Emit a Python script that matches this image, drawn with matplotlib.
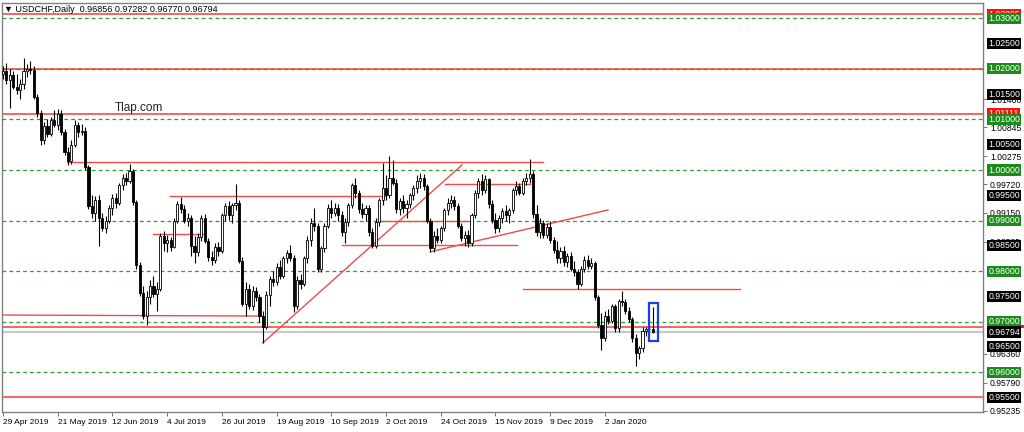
import matplotlib
matplotlib.use('Agg')
import matplotlib.pyplot as plt
from matplotlib.patches import Rectangle
from matplotlib.transforms import blended_transform_factory

plt.rcParams['font.family'] = ['Liberation Sans', 'DejaVu Sans']

# daily candles, 29 Apr 2019 .. Jan 2020 (bar index = trading day)
opens = [1.0190, 1.0195, 1.0178, 1.0188, 1.0165, 1.0158, 1.0170, 1.0195, 1.0200, 1.0198,
         1.0145, 1.0112, 1.0060, 1.0088, 1.0072, 1.0098, 1.0090, 1.0110, 1.0075, 1.0035,
         1.0018, 1.0050, 1.0090, 1.0075, 1.0078, 1.0005, 0.9928, 0.9915, 0.9940, 0.9905,
         0.9885, 0.9900, 0.9925, 0.9945, 0.9935, 0.9970, 0.9985, 0.9978, 0.9998, 0.9937,
         0.9812, 0.9757, 0.9712, 0.9748, 0.9770, 0.9755, 0.9765, 0.9870, 0.9855, 0.9862,
         0.9848, 0.9900, 0.9932, 0.9922, 0.9900, 0.9905, 0.9850, 0.9838, 0.9868, 0.9905,
         0.9860, 0.9828, 0.9822, 0.9848, 0.9840, 0.9910, 0.9928, 0.9910, 0.9930, 0.9935,
         0.9820, 0.9735, 0.9765, 0.9730, 0.9760, 0.9748, 0.9712, 0.9690, 0.9752, 0.9785,
         0.9778, 0.9808, 0.9790, 0.9825, 0.9835, 0.9826, 0.9730, 0.9782, 0.9775, 0.9825,
         0.9862, 0.9895, 0.9890, 0.9805, 0.9845, 0.9890, 0.9925, 0.9915, 0.9925, 0.9910,
         0.9878, 0.9898, 0.9930, 0.9970, 0.9955, 0.9922, 0.9912, 0.9925, 0.9878, 0.9850,
         0.9898, 0.9940, 0.9965, 0.9950, 0.9985, 0.9975, 0.9922, 0.9938, 0.9925, 0.9932,
         0.9950, 0.9965, 0.9978, 0.9985, 0.9968, 0.9900, 0.9845, 0.9870, 0.9862, 0.9885,
         0.9920, 0.9935, 0.9940, 0.9928, 0.9890, 0.9865, 0.9872, 0.9855, 0.9910, 0.9955,
         0.9978, 0.9960, 0.9982, 0.9932, 0.9902, 0.9885, 0.9905, 0.9918, 0.9910, 0.9920,
         0.9960, 0.9968, 0.9955, 0.9978, 0.9985, 0.9992, 0.9912, 0.9878, 0.9895, 0.9872,
         0.9888, 0.9862, 0.9842, 0.9825, 0.9840, 0.9818, 0.9830, 0.9805, 0.9798, 0.9775,
         0.9805, 0.9822, 0.9810, 0.9815, 0.9748, 0.9693, 0.9668, 0.9712, 0.9702, 0.9730,
         0.9688, 0.9740, 0.9738, 0.9720, 0.9705, 0.9668, 0.9638, 0.9648, 0.9682, 0.9685,
         0.96856]
highs = [1.0205, 1.0212, 1.0200, 1.0196, 1.0190, 1.0180, 1.0222, 1.0210, 1.0215, 1.0205,
         1.0150, 1.0118, 1.0095, 1.0100, 1.0105, 1.0118, 1.0120, 1.0118, 1.0082, 1.0045,
         1.0060, 1.0098, 1.0095, 1.0092, 1.0085, 1.0010, 0.9950, 0.9948, 0.9950, 0.9915,
         0.9908, 0.9930, 0.9952, 0.9955, 0.9975, 0.9992, 0.9995, 1.0012, 1.0002, 0.9940,
         0.9818, 0.9770, 0.9760, 0.9782, 0.9790, 0.9778, 0.9875, 0.9880, 0.9872, 0.9868,
         0.9905, 0.9938, 0.9947, 0.9930, 0.9915, 0.9910, 0.9870, 0.9875, 0.9910, 0.9912,
         0.9866, 0.9840, 0.9855, 0.9858, 0.9915, 0.9935, 0.9938, 0.9935, 0.9972, 0.9940,
         0.9828, 0.9778, 0.9775, 0.9770, 0.9768, 0.9755, 0.9720, 0.9760, 0.9790, 0.9800,
         0.9815, 0.9822, 0.9830, 0.9842, 0.9852, 0.9832, 0.9790, 0.9795, 0.9830, 0.9870,
         0.9905, 0.9925, 0.9895, 0.9850, 0.9895, 0.9932, 0.9940, 0.9935, 0.9932, 0.9918,
         0.9905, 0.9935, 0.9975, 0.9985, 0.9960, 0.9935, 0.9930, 0.9930, 0.9885, 0.9905,
         0.9945, 1.0014, 0.9990, 1.0027, 1.0020, 0.9982, 0.9945, 0.9950, 0.9940, 0.9955,
         0.9970, 0.9990, 0.9995, 0.9992, 0.9972, 0.9905, 0.9880, 0.9885, 0.9890, 0.9925,
         0.9945, 0.9950, 0.9948, 0.9935, 0.9895, 0.9880, 0.9882, 0.9915, 0.9960, 0.9985,
         0.9992, 0.9990, 0.9985, 0.9940, 0.9915, 0.9910, 0.9925, 0.9930, 0.9925, 0.9965,
         0.9978, 0.9975, 0.9985, 0.9995, 1.0022, 0.9998, 0.9930, 0.9905, 0.9902, 0.9895,
         0.9900, 0.9868, 0.9860, 0.9848, 0.9850, 0.9835, 0.9838, 0.9820, 0.9805, 0.9810,
         0.9830, 0.9832, 0.9825, 0.9820, 0.9752, 0.9718, 0.9720, 0.9725, 0.9735, 0.9735,
         0.9745, 0.9760, 0.9745, 0.9728, 0.9710, 0.9675, 0.9652, 0.9690, 0.9690, 0.9695,
         0.97282]
lows = [1.0180, 1.0170, 1.0123, 1.0160, 1.0150, 1.0140, 1.0160, 1.0185, 1.0190, 1.0140,
        1.0105, 1.0050, 1.0052, 1.0065, 1.0068, 1.0085, 1.0080, 1.0070, 1.0030, 1.0010,
        1.0012, 1.0045, 1.0065, 1.0070, 1.0000, 0.9922, 0.9905, 0.9900, 0.9850, 0.9880,
        0.9875, 0.9895, 0.9910, 0.9925, 0.9930, 0.9960, 0.9970, 0.9975, 0.9930, 0.9805,
        0.9750, 0.9705, 0.9693, 0.9735, 0.9748, 0.9720, 0.9760, 0.9840, 0.9838, 0.9840,
        0.9845, 0.9895, 0.9915, 0.9895, 0.9890, 0.9830, 0.9816, 0.9830, 0.9860, 0.9855,
        0.9820, 0.9812, 0.9815, 0.9830, 0.9835, 0.9900, 0.9902, 0.9895, 0.9920, 0.9815,
        0.9730, 0.9712, 0.9725, 0.9722, 0.9740, 0.9700, 0.9658, 0.9685, 0.9730, 0.9770,
        0.9772, 0.9785, 0.9786, 0.9815, 0.9820, 0.9719, 0.9725, 0.9765, 0.9770, 0.9815,
        0.9850, 0.9880, 0.9798, 0.9798, 0.9838, 0.9885, 0.9905, 0.9908, 0.9900, 0.9870,
        0.9855, 0.9890, 0.9925, 0.9945, 0.9915, 0.9905, 0.9900, 0.9870, 0.9845, 0.9845,
        0.9890, 0.9930, 0.9940, 0.9945, 0.9970, 0.9915, 0.9910, 0.9915, 0.9905, 0.9925,
        0.9940, 0.9955, 0.9965, 0.9960, 0.9895, 0.9838, 0.9838, 0.9855, 0.9855, 0.9880,
        0.9910, 0.9925, 0.9920, 0.9885, 0.9860, 0.9850, 0.9848, 0.9850, 0.9905, 0.9945,
        0.9950, 0.9955, 0.9925, 0.9895, 0.9875, 0.9878, 0.9895, 0.9900, 0.9895, 0.9915,
        0.9950, 0.9950, 0.9950, 0.9970, 0.9975, 0.9905, 0.9870, 0.9865, 0.9865, 0.9865,
        0.9855, 0.9835, 0.9815, 0.9815, 0.9810, 0.9808, 0.9800, 0.9790, 0.9765, 0.9770,
        0.9798, 0.9805, 0.9805, 0.9742, 0.9688, 0.9644, 0.9662, 0.9695, 0.9698, 0.9680,
        0.9680, 0.9730, 0.9715, 0.9700, 0.9660, 0.9612, 0.9625, 0.9640, 0.9672, 0.9675,
        0.96770]
closes = [1.0195, 1.0178, 1.0188, 1.0165, 1.0158, 1.0170, 1.0195, 1.0200, 1.0198, 1.0145,
          1.0112, 1.0060, 1.0088, 1.0072, 1.0098, 1.0090, 1.0110, 1.0075, 1.0035, 1.0018,
          1.0050, 1.0090, 1.0075, 1.0078, 1.0005, 0.9928, 0.9915, 0.9940, 0.9905, 0.9885,
          0.9900, 0.9925, 0.9945, 0.9935, 0.9970, 0.9985, 0.9978, 0.9998, 0.9937, 0.9812,
          0.9757, 0.9712, 0.9748, 0.9770, 0.9755, 0.9765, 0.9870, 0.9855, 0.9862, 0.9848,
          0.9900, 0.9932, 0.9922, 0.9900, 0.9905, 0.9850, 0.9838, 0.9868, 0.9905, 0.9860,
          0.9828, 0.9822, 0.9848, 0.9840, 0.9910, 0.9928, 0.9910, 0.9930, 0.9935, 0.9820,
          0.9735, 0.9765, 0.9730, 0.9760, 0.9748, 0.9712, 0.9690, 0.9752, 0.9785, 0.9778,
          0.9808, 0.9790, 0.9825, 0.9835, 0.9826, 0.9730, 0.9782, 0.9775, 0.9825, 0.9862,
          0.9895, 0.9890, 0.9805, 0.9845, 0.9890, 0.9925, 0.9915, 0.9925, 0.9910, 0.9878,
          0.9898, 0.9930, 0.9970, 0.9955, 0.9922, 0.9912, 0.9925, 0.9878, 0.9850, 0.9898,
          0.9940, 0.9965, 0.9950, 0.9985, 0.9975, 0.9922, 0.9938, 0.9925, 0.9932, 0.9950,
          0.9965, 0.9978, 0.9985, 0.9968, 0.9900, 0.9845, 0.9870, 0.9862, 0.9885, 0.9920,
          0.9935, 0.9940, 0.9928, 0.9890, 0.9865, 0.9872, 0.9855, 0.9910, 0.9955, 0.9978,
          0.9960, 0.9982, 0.9932, 0.9902, 0.9885, 0.9905, 0.9918, 0.9910, 0.9920, 0.9960,
          0.9968, 0.9955, 0.9978, 0.9985, 0.9992, 0.9912, 0.9878, 0.9895, 0.9872, 0.9888,
          0.9862, 0.9842, 0.9825, 0.9840, 0.9818, 0.9830, 0.9805, 0.9798, 0.9775, 0.9805,
          0.9822, 0.9810, 0.9815, 0.9748, 0.9693, 0.9668, 0.9712, 0.9702, 0.9730, 0.9688,
          0.9740, 0.9738, 0.9720, 0.9705, 0.9668, 0.9638, 0.9648, 0.9682, 0.9685, 0.9686,
          0.96794]

date_bars = [0, 16, 32, 48, 64, 80, 96, 112, 128, 144, 160, 176]
date_labels = ['29 Apr 2019', '21 May 2019', '12 Jun 2019', '4 Jul 2019', '26 Jul 2019',
               '19 Aug 2019', '10 Sep 2019', '2 Oct 2019', '24 Oct 2019', '15 Nov 2019',
               '9 Dec 2019', '2 Jan 2020']

# full width levels
red_levels = [1.03085, 1.02000, 1.01111, 0.96900, 0.95500]
green_levels = [1.03, 1.02, 1.01, 1.00, 0.99, 0.98, 0.97, 0.96]
last_price = 0.96794

# drawn objects: (bar from, bar to, price from, price to)
red_segments = [(18.7, 157.9, 1.0016, 1.0016),
                (48.8, 111.7, 0.9949, 0.9949),
                (129.2, 154.1, 0.9972, 0.9972),
                (43.9, 59.1, 0.9873, 0.9873),
                (109.6, 137.1, 0.9900, 0.9900),
                (99.1, 150.3, 0.9852, 0.9852),
                (152.0, 215.5, 0.9765, 0.9765),
                (-1.0, 75.7, 0.9713, 0.9711),
                (76.0, 134.2, 0.9658, 1.0010),
                (124.9, 176.9, 0.9838, 0.9921)]
box = (188.9, 191.5, 0.9662, 0.9737)

# right scale labels
plain_ticks = [1.01400, 1.00845, 1.00275, 0.99720, 0.99150, 0.98585, 0.96360, 0.95790, 0.95235]
tag_prices = [1.03085, 1.03000, 1.02500, 1.02000, 1.01500, 1.01111, 1.01000, 1.00500,
              1.00000, 0.99500, 0.99000, 0.98500, 0.98000, 0.97500, 0.97000,
              0.96794, 0.96500, 0.96000, 0.95500]
tag_kinds = ['r', 'g', 'k', 'g', 'k', 'r', 'g', 'k', 'g', 'k', 'g', 'k', 'g', 'k', 'g',
             'k', 'k', 'g', 'k']
hidden_red_tag = 0.96900

fig = plt.figure(figsize=(10.24, 4.32), dpi=100)
ax = fig.add_axes([2 / 1024, 20 / 432, 981 / 1024, 409 / 432])
ax.set_xlim(-0.29, 286.55)
ax.set_ylim(0.95211, 1.03305)

for p in red_levels:
    ax.axhline(p, color='#f26666', lw=1.4, zorder=1)
for p in green_levels:
    ax.axhline(p, color='#2f9a2f', lw=0.9, dashes=(3, 2.5), zorder=1)
ax.axhline(last_price, color='#c8c8c8', lw=1.6, zorder=1)

for x0, x1, p0, p1 in red_segments:
    ax.plot([x0, x1], [p0, p1], color='#f24a4a', lw=1.0, zorder=1.5)

for i in range(len(closes)):
    o, h, l, c = opens[i], highs[i], lows[i], closes[i]
    ax.vlines(i, l, h, color='black', lw=0.8, zorder=3)
    bot = min(o, c)
    hgt = max(abs(c - o), 0.00008)
    if c >= o:
        ax.bar(i, hgt, bottom=bot, width=0.62, color='white', edgecolor='black', lw=0.6, zorder=4)
    else:
        ax.bar(i, hgt, bottom=bot, width=0.62, color='black', edgecolor='black', lw=0.6, zorder=4)

ax.add_patch(Rectangle((box[0], box[2]), box[1] - box[0], box[3] - box[2],
                       fill=False, edgecolor='#1f3fe0', lw=1.6, zorder=5))

ax.text(32.7, 1.0123, 'Tlap.com', fontsize=8.5, color='#222222', va='center', ha='left')

# axes look
for s in ax.spines.values():
    s.set_color('#808080')
    s.set_linewidth(1.0)
ax.yaxis.tick_right()
ax.set_yticks(plain_ticks)
ax.set_yticklabels(['%.5f' % t for t in plain_ticks], fontsize=6.2)
ax.tick_params(axis='y', length=3, width=0.6, color='#606060', pad=2)
ax.set_xticks(date_bars)
ax.set_xticklabels(date_labels, fontsize=6.0, ha='left')
ax.tick_params(axis='x', length=3, width=0.6, color='#606060', pad=2)

trans = blended_transform_factory(ax.transAxes, ax.transData)
# red price tag mostly hidden under the last price tag: only a strip shows
ax.add_patch(Rectangle((1.0045, hidden_red_tag - 0.0002), 0.0395, 0.0005, transform=trans,
                       fc='#ff1010', ec='none', clip_on=False, zorder=6))
colors = {'r': '#ff1010', 'g': '#1a8c1a', 'k': '#000000'}
for p, k in zip(tag_prices, tag_kinds):
    ax.text(1.0055, p, '%.5f' % p, transform=trans, fontsize=6.3, color='white',
            va='center', ha='left', clip_on=False, zorder=6,
            bbox=dict(boxstyle='square,pad=0.12', fc=colors[k], ec='none'))

fig.text(4 / 1024, 1 - 9 / 432, '\u25bc USDCHF,Daily  0.96856 0.97282 0.96770 0.96794',
         fontsize=6.5, va='center', ha='left', color='black')

fig.savefig('out.png', dpi=100)
